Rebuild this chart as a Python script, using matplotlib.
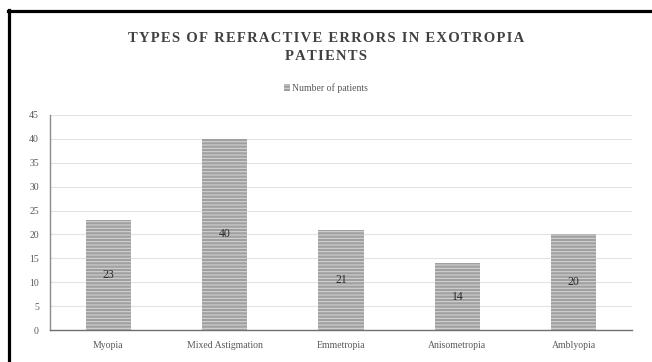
import matplotlib
matplotlib.use("Agg")
import matplotlib.pyplot as plt
from matplotlib.lines import Line2D

categories = ["Myopia", "Mixed Astigmation", "Emmetropia", "Anisometropia", "Amblyopia"]
patients = [23, 40, 21, 14, 20]
yticks = [0, 5, 10, 15, 20, 25, 30, 35, 40, 45]
title_lines = ["TYPES OF REFRACTIVE ERRORS IN EXOTROPIA", "PATIENTS"]

plt.rcParams['font.family'] = ['Liberation Serif', 'DejaVu Serif']
plt.rcParams['hatch.linewidth'] = 0.8

fig = plt.figure(figsize=(6.52, 3.62), dpi=100)
ax = fig.add_axes([50/652, 1-330/362, (632-50)/652, (330-115)/362])

x = range(len(categories))
bars = ax.bar(x, patients, width=0.39, color='#a0a0a0', edgecolor='#d2d2d2',
              linewidth=0, hatch='-----', label='Number of patients', zorder=3)
for xi, v in zip(x, patients):
    ax.text(xi, v/2, str(v), ha='center', va='center', fontsize=8.5, color='#2b2b2b', zorder=4)

ax.set_xlim(-0.5, len(categories)-0.5)
ax.set_ylim(0, 45)
ax.set_yticks(yticks)
ax.set_xticks(list(x))
ax.set_xticklabels(categories)
ax.tick_params(axis='both', length=0, labelsize=7, colors='#595959')
ax.tick_params(axis='x', pad=8)
ax.tick_params(axis='y', pad=8)
ax.grid(axis='y', color='#e3e3e3', linewidth=0.8, zorder=0)
for s in ['top', 'right']:
    ax.spines[s].set_visible(False)
ax.spines['left'].set_color('#8c8c8c')
ax.spines['bottom'].set_color('#707070')
ax.spines['left'].set_linewidth(1.0)
ax.spines['bottom'].set_linewidth(1.0)

def spaced(s):
    return '\u200a'.join(s)

fig.text(0.5, 1-39/362, spaced(title_lines[0]), ha='center', va='center',
         fontsize=10.5, fontweight='bold', color='#404040')
fig.text(0.5, 1-57/362, spaced(title_lines[1]), ha='center', va='center',
         fontsize=10.5, fontweight='bold', color='#404040')

leg = fig.legend(handles=[bars], labels=['Number of patients'], loc='center',
                 bbox_to_anchor=(0.5, 1-88/362), frameon=False, fontsize=7,
                 handlelength=0.6, handleheight=0.6, handletextpad=0.3, labelcolor='#595959')

# black frame (left and top edges)
fig.add_artist(Line2D([9/652, 9/652], [0, 1-10/362], transform=fig.transFigure,
                      color='black', linewidth=2.3))
fig.add_artist(Line2D([8/652, 1], [1-11/362, 1-11/362], transform=fig.transFigure,
                      color='black', linewidth=2.3))

fig.savefig("out.png", dpi=100)
